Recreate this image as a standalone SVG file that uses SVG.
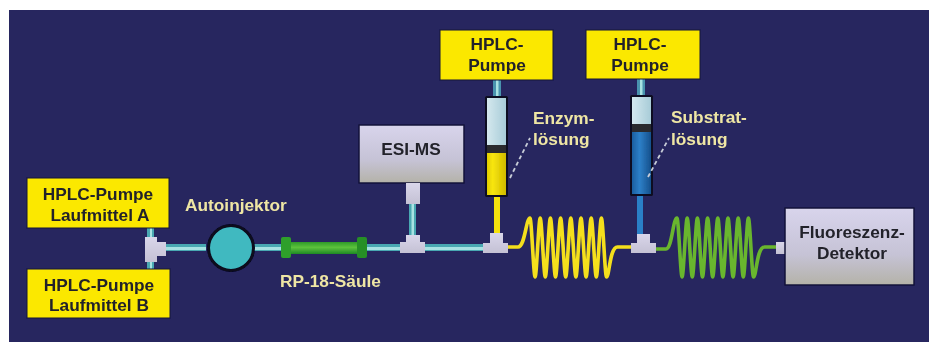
<svg xmlns="http://www.w3.org/2000/svg" width="931" height="342" viewBox="0 0 931 342">
<style>
text{font-family:"Liberation Sans",Arial,sans-serif;font-weight:700;font-size:17.300px}
.dark{fill:#23232b;text-anchor:middle}
.lab{fill:#efe6a4}
.pump{fill:#fbe800;stroke:#14143a;stroke-width:1}
.gray{fill:url(#gr);stroke:#14143a;stroke-width:1.5}
.t{fill:url(#tg)}
.coil{fill:none;stroke-width:3.6;stroke-linejoin:round;stroke-linecap:round}
.lead{fill:none;stroke:#c8cdd8;stroke-width:1.8;stroke-dasharray:4 3}
</style>
<defs>
<linearGradient id="gr" x1="0" y1="0" x2="0" y2="1"><stop offset="0" stop-color="#d8d4ec"/><stop offset=".6" stop-color="#c6c3d6"/><stop offset="1" stop-color="#b4b2a8"/></linearGradient>
<linearGradient id="tg" x1="0" y1="0" x2="0" y2="1"><stop offset="0" stop-color="#d9d6ea"/><stop offset="1" stop-color="#c4c1d4"/></linearGradient>
<linearGradient id="tgh" x1="0" y1="0" x2="1" y2="0"><stop offset="0" stop-color="#d4e8ee"/><stop offset="1" stop-color="#a8ccd8"/></linearGradient>
<linearGradient id="yl" x1="0" y1="0" x2="1" y2="0"><stop offset="0" stop-color="#e0cc00"/><stop offset=".3" stop-color="#f8e60c"/><stop offset="1" stop-color="#d0ba00"/></linearGradient>
<linearGradient id="bl" x1="0" y1="0" x2="1" y2="0"><stop offset="0" stop-color="#1a5fa0"/><stop offset=".4" stop-color="#2d80c8"/><stop offset="1" stop-color="#16508c"/></linearGradient>
<linearGradient id="cg" x1="0" y1="0" x2="0" y2="1"><stop offset="0" stop-color="#2f9a2a"/><stop offset=".45" stop-color="#5cc23c"/><stop offset="1" stop-color="#1f8a24"/></linearGradient>
<filter id="soft" x="-2%" y="-2%" width="104%" height="104%"><feGaussianBlur stdDeviation="0.5"/></filter>
</defs>
<rect width="931" height="342" fill="#ffffff"/>
<rect x="9" y="10" width="920" height="332" fill="#27265f"/>
<g filter="url(#soft)">
<g id="connectors">
<g fill="#4aa8b2">
<rect x="166" y="244" width="40" height="7"/><rect x="254" y="244" width="27" height="7"/><rect x="367" y="244" width="33" height="7"/><rect x="425" y="244" width="58" height="7"/>
<rect x="147" y="228" width="7" height="9"/><rect x="147" y="262" width="7" height="7"/>
<rect x="409" y="203" width="7" height="33"/>
<rect x="493" y="80" width="8" height="16" fill="#4a93ae"/><rect x="637" y="79" width="8" height="16" fill="#4a93ae"/>
</g>
<g fill="#a8e2e2">
<rect x="166" y="247" width="40" height="3"/><rect x="254" y="247" width="27" height="3"/><rect x="367" y="247" width="33" height="3"/><rect x="425" y="247" width="58" height="3"/>
<rect x="150" y="228" width="2" height="9"/><rect x="150" y="262" width="2" height="7"/>
<rect x="411.500" y="203" width="2.500" height="33"/>
<rect x="496" y="80" width="2.500" height="16"/><rect x="640" y="79" width="2.500" height="16"/>
</g>
<rect x="494" y="197" width="6" height="39" fill="#f5e210"/>
<rect x="637" y="196" width="6" height="39" fill="#2b80c8"/>
<path class="coil" stroke="#f4df1c" d="M508 247H518C525 247 526 218 530 218c1.500 0 3.600 59 5.100 59c1.500 0 3.600 -59 5.100 -59c1.500 0 3.600 59 5.100 59c1.500 0 3.600 -59 5.100 -59c1.500 0 3.600 59 5.100 59c1.500 0 3.600 -59 5.100 -59c1.500 0 3.600 59 5.100 59c1.500 0 3.600 -59 5.100 -59c1.500 0 3.600 59 5.100 59c1.500 0 3.600 -59 5.100 -59c1.500 0 3.600 59 5.100 59c1.500 0 3.600 -59 5.100 -59c1.500 0 3.600 59 5.100 59c1.500 0 3.600 -59 5.100 -59c1.500 0 3.600 59 5.100 59c3 0 3 -30 11 -30H631"/>
<path class="coil" stroke="#69b62d" d="M656 249H666C672 249 673 218 677 218c1.500 0 3.600 59 5.100 59c1.500 0 3.600 -59 5.100 -59c1.500 0 3.600 59 5.100 59c1.500 0 3.600 -59 5.100 -59c1.500 0 3.600 59 5.100 59c1.500 0 3.600 -59 5.100 -59c1.500 0 3.600 59 5.100 59c1.500 0 3.600 -59 5.100 -59c1.500 0 3.600 59 5.100 59c1.500 0 3.600 -59 5.100 -59c1.500 0 3.600 59 5.100 59c1.500 0 3.600 -59 5.100 -59c1.500 0 3.600 59 5.100 59c1.500 0 3.600 -59 5.100 -59c1.500 0 3.600 59 5.100 59c3 0 3 -30 11 -30H776"/>
</g>
<g id="pump-a"><rect class="pump" x="27" y="178" width="142" height="50"/><text class="dark" x="98" y="200">HPLC-Pumpe</text><text class="dark" x="100" y="221">Laufmittel A</text></g>
<g id="pump-b"><rect class="pump" x="27" y="269" width="143" height="49"/><text class="dark" x="99" y="291">HPLC-Pumpe</text><text class="dark" x="99" y="311">Laufmittel B</text></g>
<g id="t-left"><path class="t" d="M145 237H157V242H166V256H157V262H145Z"/></g>
<g id="autoinjektor"><circle cx="231" cy="248" r="22.500" fill="#3fb9c0" stroke="#08081c" stroke-width="3"/><text class="lab" x="185" y="211">Autoinjektor</text></g>
<g id="saeule"><rect x="289" y="242" width="70" height="12" fill="url(#cg)"/><rect x="281" y="237" width="10" height="21" rx="2" fill="#2f9f2c"/><rect x="357" y="237" width="10" height="21" rx="2" fill="#278f28"/><text class="lab" x="280" y="287">RP-18-Säule</text></g>
<g id="esi-ms"><rect class="gray" x="359" y="125" width="105" height="58"/><rect class="t" x="406" y="183" width="14" height="21"/><text class="dark" x="411" y="155">ESI-MS</text></g>
<g id="t-esi"><path class="t" d="M406 235H420V242H425V253H400V242H406Z"/></g>
<g id="pump-1"><rect class="pump" x="440" y="30" width="113" height="50"/><text class="dark" x="497" y="50">HPLC-</text><text class="dark" x="497" y="71">Pumpe</text></g>
<g id="syringe-enzym">
<rect x="485" y="96" width="23" height="101" rx="1.500" fill="#101020"/>
<rect x="487" y="98" width="19" height="47" fill="url(#tgh)"/>
<rect x="487" y="153" width="19" height="42" fill="url(#yl)"/>
<rect x="487" y="145" width="19" height="8" fill="#2a2a2e"/>
<path class="lead" d="M510 178L530 138"/>
<text class="lab" x="533" y="124">Enzym-</text><text class="lab" x="533" y="145">lösung</text>
</g>
<g id="t-1"><path class="t" d="M490 233H503V243H508V253H483V243H490Z"/></g>
<g id="pump-2"><rect class="pump" x="586" y="30" width="114" height="49"/><text class="dark" x="640" y="50">HPLC-</text><text class="dark" x="640" y="71">Pumpe</text></g>
<g id="syringe-substrat">
<rect x="630" y="95" width="23" height="101" rx="1.500" fill="#101020"/>
<rect x="632" y="97" width="19" height="27" fill="url(#tgh)"/>
<rect x="632" y="132" width="19" height="62" fill="url(#bl)"/>
<rect x="632" y="124" width="19" height="8" fill="#2a2a2e"/>
<path class="lead" d="M648 177L669 138"/>
<text class="lab" x="671" y="123">Substrat-</text><text class="lab" x="671" y="145">lösung</text>
</g>
<g id="t-2"><path class="t" d="M637 234H650V243H656V253H631V243H637Z"/></g>
<g id="detektor"><rect class="t" x="776" y="242" width="9" height="12"/><rect class="gray" x="785" y="208" width="129" height="77"/><text class="dark" x="852" y="238">Fluoreszenz-</text><text class="dark" x="852" y="259">Detektor</text></g>
</g>
</svg>
